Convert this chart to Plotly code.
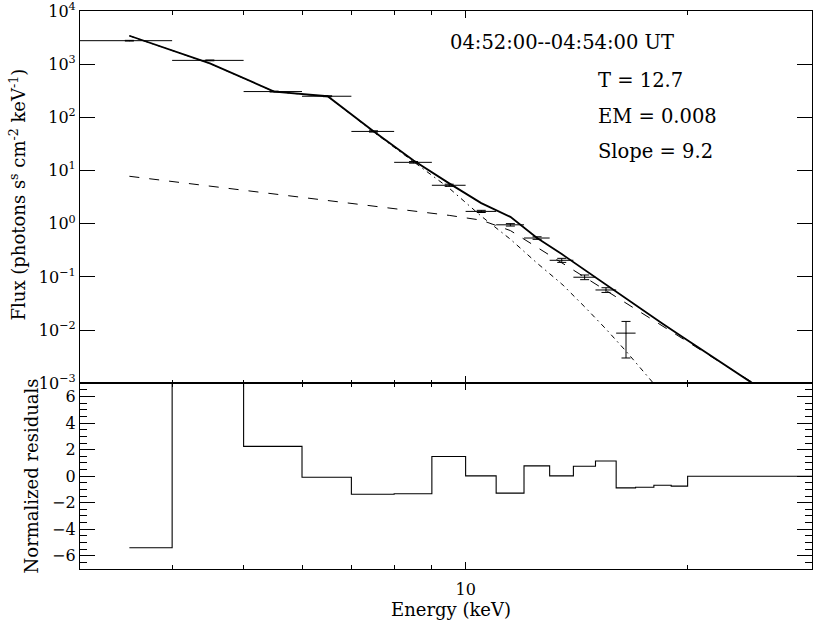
import math
import plotly.graph_objects as go

# ---------------- data ----------------
# observed spectrum: energy bins (keV), flux and 1-sigma errors
data_e = [3.5, 4.5, 5.5, 6.5, 7.5, 8.5, 9.5, 10.5, 11.5, 12.5, 13.5, 14.5, 15.5, 16.5]
data_e_lo = [3, 4, 5, 6, 7, 8, 9, 10, 11, 12, 13, 14, 15, 16]
data_e_hi = [4, 5, 6, 7, 8, 9, 10, 11, 12, 13, 14, 15, 16, 17]
data_flux = [2770, 1180, 306, 250, 54.5, 14.3, 5.3, 1.71, 0.957, 0.54, 0.206, 0.099, 0.057, 0.0088]
data_err = [40, 20, 6, 5, 1.5, 0.5, 0.25, 0.08, 0.05, 0.03, 0.018, 0.010, 0.0058, 0.0058]

# model energies (bin centres) and bin lower edges
model_e = [3.5, 4.5, 5.5, 6.5, 7.5, 8.5, 9.5, 10.5, 11.5, 12.5, 13.5, 14.5, 15.5, 16.5,
           17.5, 18.5, 19.5, 20.5, 21.5, 22.5, 23.5, 24.5, 25.5, 26.5, 27.5, 28.5, 29.5]
model_e_lo = [3, 4, 5, 6, 7, 8, 9, 10, 11, 12, 13, 14, 15, 16,
              17, 18, 19, 20, 21, 22, 23, 24, 25, 26, 27, 28, 29]
model_total = [3430, 1040, 306, 250, 55.0, 15.5, 5.75, 2.45, 1.35, 0.543, 0.269, 0.135,
               0.0708, 0.0389, 0.0224, 0.0132, 0.00813, 0.00513, 0.00331, 0.00219,
               0.00148, 0.00100, 0.000733, 0.000525, 0.000380, 0.000279, 0.000206]
model_thermal = [3420, 1033, 305, 248, 53.3, 14.6, 4.67, 1.39, 0.513, 0.182, 0.0741,
                 0.0275, 0.0105, 0.00403, 0.00158, 0.00063, 0.00025, 0.0001]
model_nonthermal = [7.82, 5.11, 3.63, 2.73, 2.14, 1.73, 1.44, 1.17, 0.745, 0.361, 0.185,
                    0.0993, 0.0557, 0.0324, 0.0194, 0.0119, 0.00757, 0.00489, 0.00323,
                    0.00218, 0.00149, 0.00104, 0.000733, 0.000525, 0.000380, 0.000279,
                    0.000206]
residuals = [-5.4, 8.0, 2.25, -0.08, -1.36, -1.33, 1.48, 0.02, -1.28, 0.78, 0.02, 0.75,
             1.15, -0.88, -0.83, -0.68, -0.75, 0, 0, 0, 0, 0, 0, 0, 0, 0, 0]

flux_tickvals = [1e-3, 1e-2, 1e-1, 1e0, 1e1, 1e2, 1e3, 1e4]
flux_ticktext = ["10<sup>−3</sup>", "10<sup>−2</sup>", "10<sup>−1</sup>", "10<sup>0</sup>",
                 "10<sup>1</sup>", "10<sup>2</sup>", "10<sup>3</sup>", "10<sup>4</sup>"]
res_tickvals = [-6, -4, -2, 0, 2, 4, 6]
energy_major = [10]
energy_minor = [4, 5, 6, 7, 8, 9, 20, 30]

info_lines = ["04:52:00--04:54:00 UT", "T = 12.7", "EM = 0.008", "Slope = 9.2"]

# ---------------- figure ----------------
FONT = "DejaVu Serif"
W, H = 813, 621
ML, MR, MT, MB = 80, 0, 9, 52
PW, PH = W - ML - MR, H - MT - MB
split = (H - MB - 382.7) / PH  # boundary between panels (paper fraction)

def px_x(px):
    return (px - ML) / PW

def px_y(py):
    return (H - MB - py) / PH

fig = go.Figure()

# observed data with error bars (top panel)
fig.add_trace(go.Scatter(
    x=data_e, y=data_flux, mode="markers", xaxis="x2", yaxis="y2",
    marker=dict(size=1, color="black"),
    error_x=dict(type="data", symmetric=False,
                 array=[h - c for h, c in zip(data_e_hi, data_e)],
                 arrayminus=[c - l for c, l in zip(data_e, data_e_lo)],
                 width=0, thickness=1, color="black"),
    error_y=dict(type="data", array=data_err, width=4.5, thickness=1, color="black"),
    showlegend=False))

# model components
fig.add_trace(go.Scatter(x=model_e[:len(model_thermal)], y=model_thermal, mode="lines",
                         xaxis="x2", yaxis="y2",
                         line=dict(color="black", width=1, dash="5px,4px,1.5px,4px"),
                         showlegend=False))
fig.add_trace(go.Scatter(x=model_e, y=model_nonthermal, mode="lines", xaxis="x2", yaxis="y2",
                         line=dict(color="black", width=1, dash="10px,10px"),
                         showlegend=False))
fig.add_trace(go.Scatter(x=model_e, y=model_total, mode="lines", xaxis="x2", yaxis="y2",
                         line=dict(color="black", width=1.8), showlegend=False))

# residuals as a histogram-style step line (bottom panel)
step_x = [model_e[0]] + model_e_lo[1:] + [model_e[-1]]
step_y = residuals + [residuals[-1]]
fig.add_trace(go.Scatter(x=step_x, y=step_y, mode="lines", line_shape="hv",
                         xaxis="x", yaxis="y",
                         line=dict(color="black", width=1.1), showlegend=False))

tickfont = dict(family=FONT, size=16, color="black")
xcommon = dict(type="log", range=[math.log10(3), math.log10(3) + PW / 738.5],
               tickvals=energy_major, ticktext=[str(v) for v in energy_major],
               ticks="inside", ticklen=7, tickwidth=1, tickcolor="black",
               mirror="ticks", showline=True, linewidth=1.2, linecolor="black",
               showgrid=False, zeroline=False, tickfont=tickfont,
               minor=dict(tickvals=energy_minor, ticks="inside", ticklen=3.5,
                          tickcolor="black", tickwidth=1, showgrid=False))

fig.update_layout(
    width=W, height=H,
    margin=dict(l=ML, r=MR, t=MT, b=MB),
    paper_bgcolor="white", plot_bgcolor="white",
    font=dict(family=FONT, color="black"),
    xaxis=dict(domain=[0, 1], anchor="y", ticklabelstandoff=6, **xcommon),
    xaxis2=dict(domain=[0, 1], anchor="y2", matches="x", showticklabels=False, **xcommon),
    yaxis=dict(domain=[0, split], anchor="x", range=[-7, 7],
               tickvals=res_tickvals, ticks="inside", ticklen=15, tickwidth=1,
               tickcolor="black", mirror="ticks", showline=True, linewidth=1.2,
               linecolor="black", showgrid=False, zeroline=False, tickfont=tickfont,
               minor=dict(dtick=0.5, ticks="inside", ticklen=7, tickcolor="black",
                          tickwidth=1, showgrid=False)),
    yaxis2=dict(domain=[split, 1], anchor="x2", type="log", range=[-3, 4.0005],
                tickvals=flux_tickvals, ticktext=flux_ticktext, ticklabeloverflow="allow",
                ticks="inside", ticklen=15, tickwidth=1, tickcolor="black",
                mirror="ticks", showline=True, linewidth=1.2, linecolor="black",
                showgrid=False, zeroline=False, tickfont=tickfont),
)

ann = []
# axis titles
ann.append(dict(text="Flux (photons s<sup>s</sup> cm<sup>-2</sup> keV<sup>-1</sup>)",
                x=px_x(18), y=px_y(193), textangle=-90))
ann.append(dict(text="Normalized residuals", x=px_x(31), y=px_y(476), textangle=-90))
ann.append(dict(text="Energy (keV)", x=px_x(452), y=px_y(610)))
for a in ann:
    a.update(xref="paper", yref="paper", showarrow=False, xanchor="center",
             yanchor="middle", font=dict(family=FONT, size=18, color="black"))

info_pos = [(449, 41), (597, 79), (597, 115), (597, 150)]
for txt, (px, py) in zip(info_lines, info_pos):
    ann.append(dict(text=txt, x=px_x(px), y=px_y(py), xref="paper", yref="paper",
                    showarrow=False, xanchor="left", yanchor="middle",
                    font=dict(family=FONT, size=19.5, color="black")))

fig.update_layout(annotations=ann)
fig.write_html("out.html")
